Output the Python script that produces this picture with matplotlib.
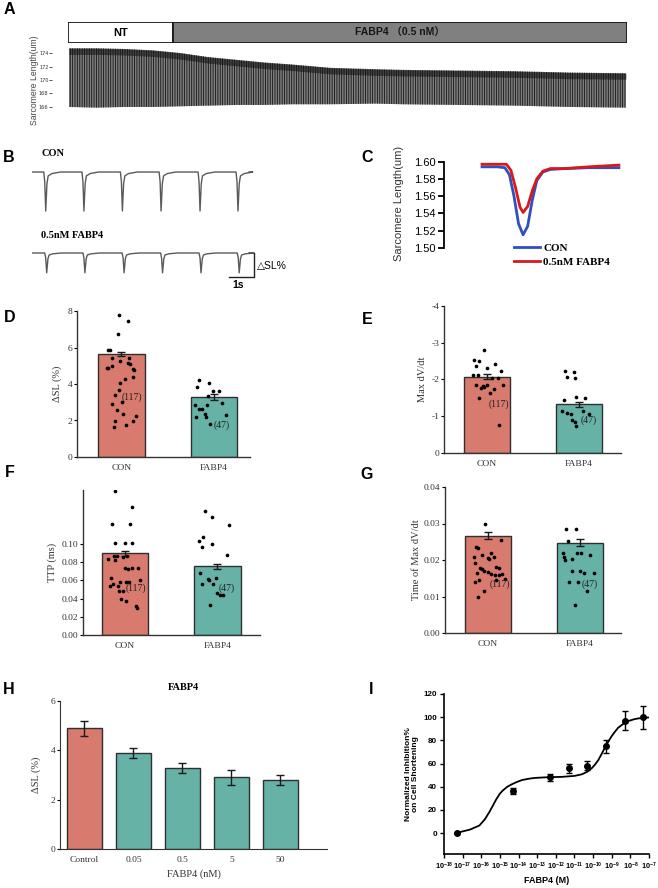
import numpy as np
import matplotlib
matplotlib.use("Agg")
import matplotlib.pyplot as plt
from matplotlib.patches import Rectangle
from matplotlib.ticker import FixedLocator, NullLocator

plt.rcParams['axes.unicode_minus'] = False
plt.rcParams['hatch.linewidth'] = 0.6
plt.rcParams['mathtext.fontset'] = 'custom'
plt.rcParams['mathtext.rm'] = 'Liberation Sans'
plt.rcParams['mathtext.bf'] = 'Liberation Sans:bold'

W, H = 658, 888
SERIF = 'Liberation Serif'
SANS = ['Liberation Sans', 'DejaVu Sans', 'Noto Sans CJK SC']
SALMON = '#d87a6d'
TEAL = '#66b2a7'
EDGE = '#2f2f2f'

# ---------------- data ----------------
# A: envelope of the continuous recording (fraction of record -> sarcomere length)
a_pos = [0, .05, .1, .15, .2, .25, .3, .35, .4, .47, .55, .6, .7, .8, .9, 1.0]
a_top = [174.7, 174.7, 174.6, 174.4, 174.0, 173.4, 173.0, 172.6, 172.3, 171.8,
         171.6, 171.5, 171.4, 171.3, 171.1, 171.0]
a_bot = [166.0, 165.9, 166.0, 166.0, 166.1, 166.2, 166.3, 166.3, 166.4, 166.4,
         166.5, 166.4, 166.3, 166.2, 166.0, 165.9]
a_nt_end = 0.188
a_ticks = [166, 168, 170, 172, 174]

# B: single-cell traces (beat times in s, depth in %)
b_con_beats = [0.56, 2.12, 3.69, 5.27, 6.86, 8.41]
b_fab_beats = [0.60, 2.16, 3.76, 5.33, 6.90, 8.46]
b_con_depth = 6.5
b_fab_depth = 3.3
b_fab_offset = -13.5
b_end = 8.86
beat_t = [-0.08, -0.04, 0.0, 0.05, 0.1, 0.25, 0.6]
beat_shape = [0.0, 0.25, 1.0, 0.3, 0.1, 0.04, 0.0]

# C: averaged transients
c_t = [0, 0.1, 0.15, 0.18, 0.21, 0.24, 0.27, 0.30, 0.33, 0.36, 0.40, 0.45, 0.55, 0.7, 0.9]
c_con = [1.594, 1.594, 1.593, 1.585, 1.560, 1.528, 1.515, 1.525, 1.555, 1.578,
         1.588, 1.591, 1.592, 1.593, 1.593]
c_fab_t = [0, 0.1, 0.16, 0.19, 0.22, 0.25, 0.27, 0.30, 0.33, 0.36, 0.40, 0.45, 0.55, 0.7, 0.9]
c_fab = [1.597, 1.597, 1.597, 1.590, 1.570, 1.547, 1.541, 1.548, 1.566, 1.580,
         1.589, 1.592, 1.592, 1.594, 1.596]

groups = ['CON', 'FABP4']
n_labels = ['(117)', '(47)']

# D: delta SL (%)
d_means = [5.65, 3.27]
d_sems = [0.13, 0.17]
d_con = [7.8, 7.44, 6.76, 5.85, 5.85, 5.4, 4.85, 4.9, 4.98, 5.25, 5.16, 5.4, 5.1, 4.76, 4.8,
         4.36, 4.25, 4.07, 3.67, 3.4, 3.0, 2.9, 2.58, 2.38, 2.27, 1.95, 1.95, 1.67, 1.73]
d_con_jit = [-0.03, 0.07, -0.04, -0.14, -0.12, -0.10, -0.15, -0.16, -0.10, -0.02, 0.07, 0.08,
             0.09, 0.14, 0.13, 0.12, 0.04, -0.01, -0.03, -0.07, 0.01, -0.10, -0.05, 0.02,
             0.16, -0.07, 0.12, -0.08, 0.05]
d_fab = [4.2, 4.07, 3.85, 3.64, 3.64, 3.35, 2.85, 2.84, 2.98, 2.64, 2.62, 2.36, 2.18, 2.18,
         2.29, 1.8]
d_fab_jit = [-0.16, -0.05, -0.18, -0.01, 0.05, -0.06, -0.20, -0.07, 0.09, -0.16, -0.13,
             -0.10, -0.09, -0.19, 0.13, -0.04]

# E: max dV/dt
e_means = [-2.07, -1.32]
e_sems = [0.07, 0.08]
e_con = [-2.80, -2.54, -2.50, -2.38, -2.43, -2.30, -2.23, -2.11, -2.11, -2.05, -2.05, -1.86,
         -1.82, -1.80, -1.84, -1.73, -1.85, -1.64, -1.49, -0.76, -1.76]
e_con_jit = [-0.03, -0.14, -0.09, -0.12, 0.09, 0.0, 0.15, -0.15, -0.10, 0.05, 0.12, -0.12,
             -0.05, -0.03, 0.0, 0.07, 0.17, 0.03, -0.09, 0.13, -0.07]
e_fab = [-2.24, -2.20, -2.06, -2.04, -1.43, -1.52, -1.50, -1.13, -1.10, -1.05, -1.13, -1.07,
         -0.90, -0.74, -0.83]
e_fab_jit = [-0.15, -0.05, -0.13, -0.04, -0.16, -0.03, 0.07, -0.18, -0.13, -0.09, 0.05, 0.11,
             -0.07, -0.03, -0.04]

# F: TTP
f_means = [0.0895, 0.0752]
f_sems = [0.0027, 0.0025]
f_con = [0.158, 0.140, 0.1215, 0.1215, 0.1007, 0.1007, 0.1007, 0.0869, 0.0869, 0.0854,
         0.0865, 0.0825, 0.0836, 0.0734, 0.0723, 0.073, 0.0734, 0.0624, 0.0562, 0.054,
         0.0584, 0.0584, 0.0584, 0.054, 0.0602, 0.0478, 0.0478, 0.0398, 0.0376, 0.0314, 0.0296]
f_con_jit = [-0.11, 0.08, -0.14, 0.06, -0.10, 0.0, 0.08, -0.12, -0.08, -0.02, 0.02, -0.10,
             -0.18, 0.0, 0.04, 0.08, 0.14, -0.15, -0.13, -0.16, -0.05, 0.01, 0.05, -0.07,
             0.17, -0.06, -0.02, -0.04, 0.01, 0.12, 0.13]
f_fab = [0.136, 0.129, 0.121, 0.107, 0.1026, 0.0996, 0.0964, 0.088, 0.068, 0.0562, 0.0617,
         0.06, 0.062, 0.0562, 0.046, 0.0434, 0.0434, 0.0328]
f_fab_jit = [-0.13, -0.06, 0.13, -0.15, -0.20, -0.06, -0.17, 0.10, -0.19, -0.17, -0.10,
             -0.09, -0.02, -0.05, 0.0, 0.03, 0.06, -0.08]

# G: time of max dV/dt
g_means = [0.0267, 0.0247]
g_sems = [0.0010, 0.0010]
g_con = [0.030, 0.0256, 0.0236, 0.0232, 0.0214, 0.022, 0.0209, 0.0206, 0.0208, 0.0202,
         0.0193, 0.0178, 0.0182, 0.0177, 0.0175, 0.0171, 0.0167, 0.0163, 0.0164, 0.0159,
         0.0159, 0.0161, 0.0145, 0.0141, 0.0145, 0.0147, 0.0115, 0.0100]
g_con_jit = [-0.03, 0.14, -0.13, -0.11, -0.07, 0.03, -0.15, 0.0, 0.06, 0.01, -0.14, -0.09,
             0.09, 0.12, -0.07, -0.04, 0.0, 0.03, -0.12, 0.08, 0.12, 0.15, -0.10, -0.14,
             0.09, 0.18, -0.05, -0.11]
g_fab = [0.0285, 0.0285, 0.0252, 0.022, 0.022, 0.022, 0.0215, 0.0209, 0.0204, 0.0199,
         0.017, 0.017, 0.0165, 0.0165, 0.0141, 0.0141, 0.0115, 0.0076]
g_fab_jit = [-0.15, -0.04, -0.13, -0.18, -0.03, 0.01, 0.11, -0.17, -0.08, -0.16, -0.08,
             0.0, 0.05, 0.16, -0.12, -0.02, 0.08, -0.05]

# H: dose series
h_labels = ['Control', '0.05', '0.5', '5', '50']
h_means = [4.9, 3.9, 3.3, 2.9, 2.8]
h_sems = [0.3, 0.2, 0.2, 0.3, 0.2]

# I: concentration-response
i_conc = [5e-18, 5e-15, 5e-13, 5e-12, 5e-11, 5e-10, 5e-9, 5e-8]
i_resp = [0, 36, 48, 56, 58, 75, 97, 100]
i_err = [1, 2.5, 3, 4, 4, 5.5, 8, 10]
i_fit_logx = [-17.1, -16.6, -16.1, -15.8, -15.57, -15.4, -15.2, -15.0, -14.86, -14.6,
              -14.37, -14.1, -13.8, -13.4, -13.09, -12.5, -11.67, -11.0, -10.6, -10.3,
              -10.07, -9.9, -9.72, -9.55, -9.37, -9.2, -9.0, -8.8, -8.66, -8.4, -8.12,
              -7.8, -7.59, -7.3, -7.05]
i_fit_y = [1, 3, 6.5, 12, 18, 23, 29, 34, 36.5, 40, 42, 44, 45.8, 47, 47.6, 48.1, 48.5,
           49.3, 50.7, 53, 56, 59, 63, 68, 73.6, 78.5, 83.7, 88, 90.8, 94, 96.6, 98.2,
           98.9, 99.4, 99.7]

# ---------------- figure ----------------
fig = plt.figure(figsize=(W / 100, H / 100), dpi=100)


def rect(l, t, r, b):
    return [l / W, 1 - b / H, (r - l) / W, (b - t) / H]


def ftext(x, y, s, **kw):
    fig.text(x / W, 1 - y / H, s, **kw)


def ylab(ax, box, text, px_right, **kw):
    ax.set_ylabel(text, **kw)
    ax.yaxis.set_label_coords((px_right - box[0]) / (box[2] - box[0]), 0.5)


for lab, x, y in [('A', 9, 9), ('B', 9, 157), ('C', 367, 157), ('D', 10, 318),
                  ('E', 367, 319), ('F', 10, 472), ('G', 367, 474), ('H', 9, 689),
                  ('I', 371, 689)]:
    ftext(x, y, lab, fontsize=11.5, fontweight='bold', family=SANS, ha='center', va='center')

# ---- A ----
axb = fig.add_axes(rect(68, 22, 627, 43))
axb.set_xlim(0, 1)
axb.set_ylim(0, 1)
axb.axis('off')
axb.add_patch(Rectangle((0, 0), a_nt_end, 1, facecolor='white', edgecolor='#1a1a1a', lw=1.3))
axb.add_patch(Rectangle((a_nt_end, 0), 1 - a_nt_end, 1, facecolor='#808080',
                        edgecolor='#1a1a1a', lw=1.3))
axb.text(a_nt_end / 2, 0.5, 'NT', ha='center', va='center', fontsize=8,
         fontweight='bold', family=SANS)
axb.text((1 + a_nt_end) / 2, 0.5, 'FABP4 （0.5 nM）', ha='center', va='center',
         fontsize=7.5, fontweight='bold', family=SANS, color='#151515')

box = (52, 45, 627, 115)
axa = fig.add_axes(rect(*box))
axa.fill_between(a_pos, a_bot, a_top, facecolor='#7d7d7d', edgecolor='#161616',
                 hatch='|||||||', linewidth=0)
axa.fill_between(a_pos, np.array(a_top) - 0.9, a_top, color='#111111', alpha=0.55, linewidth=0)
axa.set_xlim(-17 / 557, 1.002)
axa.set_ylim(164.81, 175.19)
for s in axa.spines.values():
    s.set_visible(False)
axa.set_xticks([])
axa.set_yticks(a_ticks)
axa.tick_params(axis='y', labelsize=3.6, length=2, width=0.6, pad=0.5, colors='#333333')
ylab(axa, box, 'Sarcomere Length(um)', 39, fontsize=6.2, color='#444444', family=SANS)

# ---- B ----
axB = fig.add_axes(rect(32, 165, 262, 280))


def trace(beats, depth, base):
    t, y = [0.0], [base]
    for b in beats:
        t += [b + d for d in beat_t]
        y += [base - depth * s for s in beat_shape]
    t.append(b_end)
    y.append(base)
    return t, y


for beats, depth, base in [(b_con_beats, b_con_depth, 0.0),
                           (b_fab_beats, b_fab_depth, b_fab_offset)]:
    tt, yy = trace(beats, depth, base)
    axB.plot(tt, yy, color='#5a5a5a', lw=1.0)
axB.plot([8.06, 9.06, 9.06], [b_fab_offset - 4, b_fab_offset - 4, b_fab_offset],
         color='#222222', lw=1.0)
axB.set_xlim(0, 9.39)
axB.set_ylim(-18, 1.17)
axB.axis('off')
ftext(42, 154, 'CON', fontsize=7.5, fontweight='bold', family=SERIF, va='center')
ftext(41, 236, '0.5nM FABP4', fontsize=7.5, fontweight='bold', family=SERIF, va='center')
ftext(257, 266, '△SL%', fontsize=7.5, family=SANS, va='center')
ftext(238.5, 285.5, '1s', fontsize=7.5, fontweight='bold', family=SANS, ha='center', va='center')

# ---- C ----
box = (444, 159, 625, 248)
axC = fig.add_axes(rect(*box))
axC.plot(c_t, c_con, color='#2f4fbf', lw=2, label='CON')
axC.plot(c_fab_t, c_fab, color='#d7191c', lw=2, label='0.5nM FABP4')
axC.set_xlim(-0.25, 0.94)
axC.set_ylim(1.4997, 1.6031)
axC.set_yticks([1.50, 1.52, 1.54, 1.56, 1.58, 1.60])
axC.set_yticklabels(['1.50', '1.52', '1.54', '1.56', '1.58', '1.60'])
for s in ['top', 'right', 'bottom']:
    axC.spines[s].set_visible(False)
axC.spines['left'].set_bounds(1.50, 1.60)
axC.spines['left'].set_linewidth(1.3)
axC.set_xticks([])
axC.tick_params(axis='y', labelsize=8, length=4, width=1.3, pad=2)
for t in axC.get_yticklabels():
    t.set_family(SANS)
ylab(axC, box, 'Sarcomere Length(um)', 404, fontsize=8, family=SANS, color='#333333')
axC.legend(loc='upper left', bbox_to_anchor=(514 / W, 1 - 243 / H),
           bbox_transform=fig.transFigure, frameon=False, borderpad=0, borderaxespad=0,
           handlelength=2.3, handletextpad=0.35, labelspacing=0.4,
           prop={'family': SERIF, 'weight': 'bold', 'size': 8})


# ---- D-G ----
def bar_dots(box, means, sems, dots, jits, ylim, yticks, yticklabels, ylabel, ylab_px,
             xlim, n_pos):
    ax = fig.add_axes(rect(*box))
    x = np.arange(2)
    ax.bar(x, means, width=0.5, color=[SALMON, TEAL], edgecolor=EDGE, linewidth=1, zorder=1)
    ax.errorbar(x, means, yerr=sems, fmt='none', ecolor='#1a1a1a', elinewidth=1,
                capsize=3, capthick=1, zorder=3)
    for i in range(2):
        ax.scatter(i + np.array(jits[i]), dots[i], s=7, color='black', linewidths=0, zorder=4)
        ax.text(n_pos[i][0] + i, n_pos[i][1], n_labels[i], fontsize=7, family=SERIF,
                va='center', ha='left', color='#222222', zorder=5)
    ax.set_ylim(*ylim)
    ax.set_xlim(*xlim)
    ax.set_xticks(x)
    ax.set_xticklabels(groups)
    ax.set_yticks(yticks)
    ax.set_yticklabels(yticklabels)
    for s in ['top', 'right']:
        ax.spines[s].set_visible(False)
    for s in ['left', 'bottom']:
        ax.spines[s].set_color('#333333')
        ax.spines[s].set_linewidth(1)
    ax.tick_params(axis='x', length=0, pad=5, labelsize=6.8)
    ax.tick_params(axis='y', length=2.5, width=0.8, pad=1, labelsize=6.8)
    for t in ax.get_xticklabels() + ax.get_yticklabels():
        t.set_family(SERIF)
        t.set_color('#333333')
    ylab(ax, box, ylabel, ylab_px, fontsize=7.5, family=SERIF, color='#333333')
    return ax


bar_dots((77, 311, 250, 457), d_means, d_sems, [d_con, d_fab], [d_con_jit, d_fab_jit],
         (0, 8), [0, 2, 4, 6, 8], ['0', '2', '4', '6', '8'], 'ΔSL (%)', 62,
         (-0.48, 1.39), [(0.0, 3.27), (0.0, 1.76)])
bar_dots((444, 306, 621, 453), e_means, e_sems, [e_con, e_fab], [e_con_jit, e_fab_jit],
         (0, -4), [0, -1, -2, -3, -4], ['0', '-1', '-2', '-3', '-4'], 'Max dV/dt', 427,
         (-0.47, 1.46), [(0.015, -1.32), (0.02, -0.9)])
bar_dots((83, 490, 260, 635), f_means, f_sems, [f_con, f_fab], [f_con_jit, f_fab_jit],
         (0, 0.159), [0, 0.02, 0.04, 0.06, 0.08, 0.10],
         ['0.00', '0.02', '0.04', '0.06', '0.08', '0.10'], 'TTP (ms)', 57,
         (-0.45, 1.46), [(0.005, 0.0515), (0.01, 0.0515)])
bar_dots((445, 487, 621, 633), g_means, g_sems, [g_con, g_fab], [g_con_jit, g_fab_jit],
         (0, 0.04), [0, 0.01, 0.02, 0.03, 0.04], ['0.00', '0.01', '0.02', '0.03', '0.04'],
         'Time of Max dV/dt', 421, (-0.47, 1.45), [(0.015, 0.0133), (0.02, 0.0133)])

# ---- H ----
box = (60, 701, 327, 849)
axH = fig.add_axes(rect(*box))
xh = np.arange(len(h_labels))
axH.bar(xh, h_means, width=0.71, color=[SALMON] + [TEAL] * 4, edgecolor=EDGE,
        linewidth=1, zorder=1)
axH.errorbar(xh, h_means, yerr=h_sems, fmt='none', ecolor='#1a1a1a', elinewidth=1,
             capsize=3, capthick=1, zorder=3)
axH.set_xlim(-0.5, 4.95)
axH.set_ylim(0, 6)
axH.set_yticks([0, 2, 4, 6])
axH.set_xticks(xh)
axH.set_xticklabels(h_labels)
for s in ['top', 'right']:
    axH.spines[s].set_visible(False)
for s in ['left', 'bottom']:
    axH.spines[s].set_color('#333333')
axH.tick_params(axis='x', length=0, pad=5, labelsize=6.8)
axH.tick_params(axis='y', length=2.5, width=0.8, pad=1, labelsize=6.8)
for t in axH.get_xticklabels() + axH.get_yticklabels():
    t.set_family(SERIF)
    t.set_color('#333333')
ylab(axH, box, 'ΔSL (%)', 41, fontsize=7.5, family=SERIF, color='#333333')
axH.set_xlabel('FABP4 (nM)', fontsize=7.5, family=SERIF, color='#333333', labelpad=4)
ftext(183, 687, 'FABP4', fontsize=7.5, fontweight='bold', family=SERIF, ha='center',
      va='center')

# ---- I ----
box = (444, 694, 649, 854)
axI = fig.add_axes(rect(*box))
axI.plot(10 ** np.array(i_fit_logx), i_fit_y, color='black', lw=1.3, zorder=2)
axI.errorbar(i_conc, i_resp, yerr=i_err, fmt='o', color='black', ms=4, elinewidth=1,
             capsize=2.5, capthick=1, zorder=3)
axI.set_xscale('log')
axI.set_xlim(1e-18, 1e-7)
axI.set_ylim(-18.1, 120)
decades = list(range(-18, -6))
axI.xaxis.set_major_locator(FixedLocator([10.0 ** d for d in decades]))
axI.xaxis.set_minor_locator(NullLocator())
axI.set_xticklabels([r'$\mathbf{10^{%d}}$' % d for d in decades])
axI.set_yticks([0, 20, 40, 60, 80, 100, 120])
for s in ['top', 'right']:
    axI.spines[s].set_visible(False)
for s in ['left', 'bottom']:
    axI.spines[s].set_linewidth(1.2)
axI.tick_params(axis='x', labelsize=5.2, length=3, width=1, pad=2)
axI.tick_params(axis='y', labelsize=5.8, length=3, width=1, pad=2)
for t in axI.get_yticklabels():
    t.set_family(SANS)
    t.set_fontweight('bold')
ylab(axI, box, 'Normalized Inhibition%\non Cell Shortening', 419, fontsize=6,
     fontweight='bold', family=SANS, linespacing=1.0)
axI.set_xlabel('FABP4 (M)', fontsize=6.5, fontweight='bold', family=SANS, labelpad=3)

fig.savefig('out.png', dpi=100)
